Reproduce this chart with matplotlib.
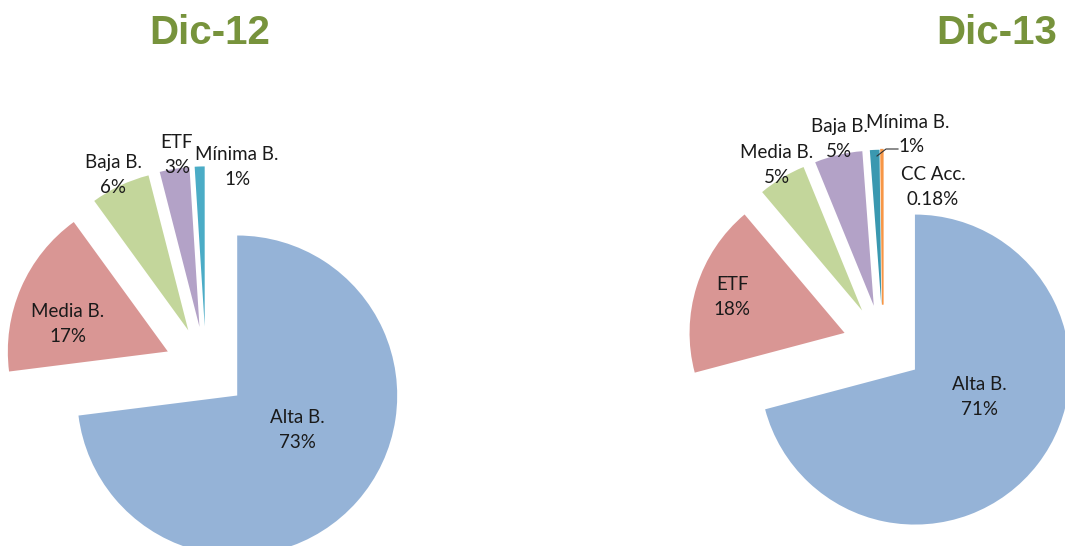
import matplotlib
matplotlib.use("Agg")
import matplotlib.pyplot as plt

# ---- data ----
titles = ["Dic-12", "Dic-13"]

cats_12 = ["Alta B.", "Media B.", "Baja B.", "ETF", "Mínima B."]
vals_12 = [73, 17, 6, 3, 1]
lbls_12 = ["73%", "17%", "6%", "3%", "1%"]

cats_13 = ["Alta B.", "ETF", "Media B.", "Baja B.", "Mínima B.", "CC Acc."]
vals_13 = [71, 18, 5, 5, 1, 0.18]
lbls_13 = ["71%", "18%", "5%", "5%", "1%", "0.18%"]

colors_12 = ["#95B3D7", "#D99694", "#C3D69B", "#B3A2C7", "#4BACC6"]
colors_13 = ["#95B3D7", "#D99694", "#C3D69B", "#B3A2C7", "#3A98B0", "#F79646"]

W, H = 1065, 546
fig = plt.figure(figsize=(W / 100, H / 100), dpi=100)
ax = fig.add_axes([0, 0, 1, 1])

def py(y):
    return H - y

# layout (pixel positions)
pies = [
    dict(vals=vals_12, colors=colors_12, center=(206, 368), r=160,
         cats=cats_12, lbls=lbls_12,
         pos=[(297, 430), (68, 324), (113, 175), (177, 155), (237, 167)]),
    dict(vals=vals_13, colors=colors_13, center=(883, 345), r=155,
         cats=cats_13, lbls=lbls_13,
         pos=[(979, 397), (732, 297), (777, 165), (839, 139), None, (933, 187)]),
]

font = "Lato"
fs = 13.5
for p in pies:
    cx, cy = p["center"]
    r = p["r"]
    wedges, _ = ax.pie(p["vals"], colors=p["colors"], startangle=90, counterclock=False,
                       center=(cx, py(cy)), radius=r,
                       explode=[0.26 * r] * len(p["vals"]),
                       wedgeprops=dict(linewidth=0))
    for cat, lb, pos in zip(p["cats"], p["lbls"], p["pos"]):
        if pos is None:
            continue
        ax.text(pos[0], py(pos[1]), f"{cat}\n{lb}", ha="center", va="center",
                fontsize=fs, family=font, color="#1a1a1a", linespacing=1.55)

# make the tiny CC Acc. slice visible like the reference
wedges[-1].set_edgecolor(colors_13[-1])
wedges[-1].set_linewidth(1.2)

# Mínima B. label in Dic-13 with leader line
ax.text(908, py(123), "Mínima B.", ha="center", va="center", fontsize=fs,
        family=font, color="#1a1a1a")
ax.text(911, py(146), "1%", ha="center", va="center", fontsize=fs,
        family=font, color="#1a1a1a")
ax.plot([877, 886, 898], [py(156), py(149), py(149)], color="#333333", lw=0.8)

# titles
ax.text(210, py(33), titles[0], ha="center", va="center", fontsize=29,
        fontweight="bold", family="Liberation Sans", color="#77933C")
ax.text(997, py(33), titles[1], ha="center", va="center", fontsize=29,
        fontweight="bold", family="Liberation Sans", color="#77933C")

ax.set_xlim(0, W)
ax.set_ylim(0, H)
ax.set_aspect("equal")
ax.axis("off")
fig.savefig("out.png", dpi=100, facecolor="white")
